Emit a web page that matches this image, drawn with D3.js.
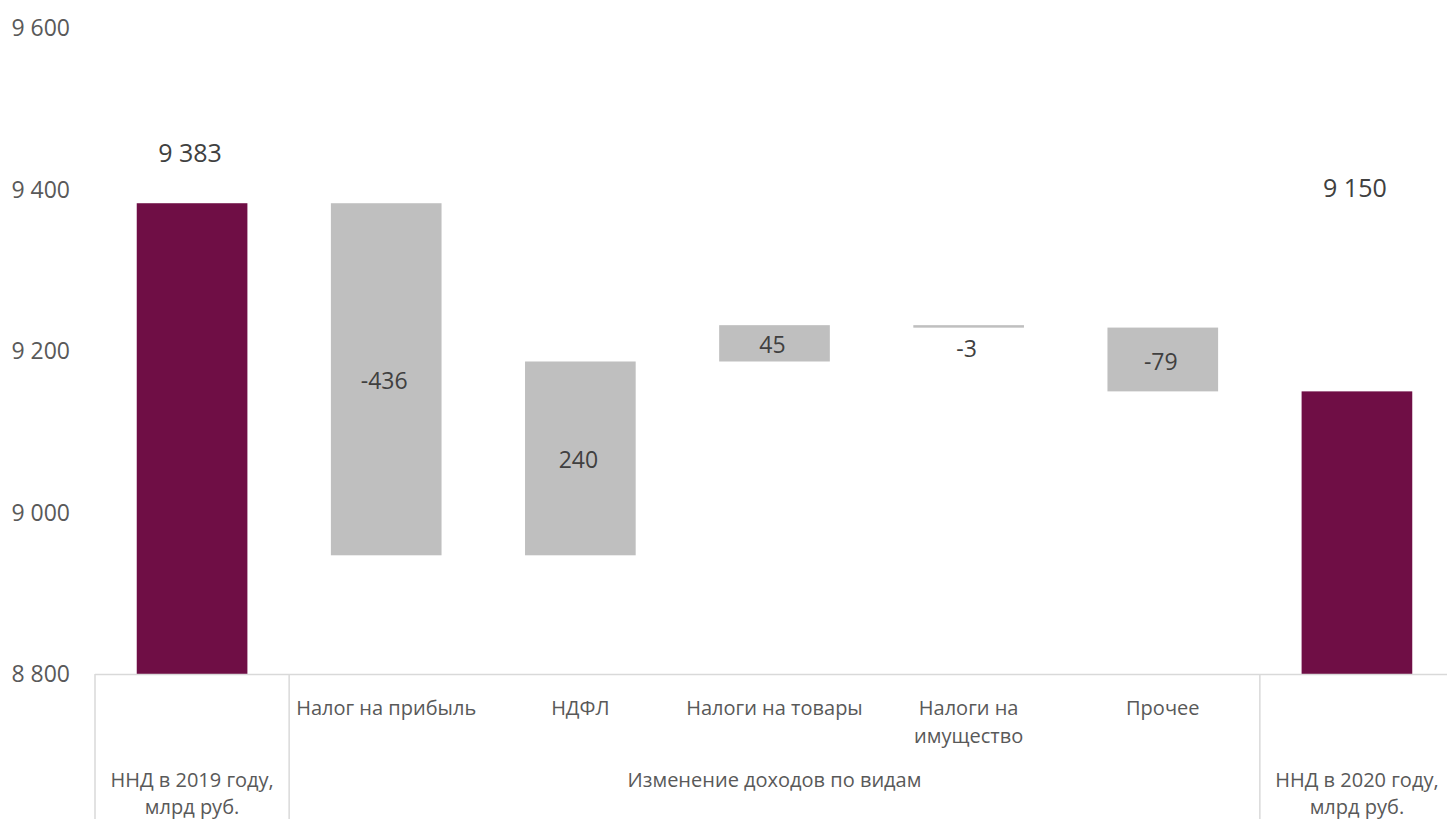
<!DOCTYPE html>
<html><head><meta charset="utf-8">
<script src="https://cdn.jsdelivr.net/npm/d3@7/dist/d3.min.js"></script>
<style>
html,body{margin:0;padding:0;background:#fff;}
svg{display:block;font-family:"Open Sans","Noto Sans",sans-serif;}
</style></head>
<body>
<svg id="chart" width="1447" height="819"></svg>
<script>
// ---- data ----
const categories = ["ННД в 2019 году,\nмлрд руб.", "Налог на прибыль", "НДФЛ", "Налоги на товары", "Налоги на\nимущество", "Прочее", "ННД в 2020 году,\nмлрд руб."];
const startValue = 9383;
const deltas = [-436, 240, 45, -3, -79];
const endValue = 9150;
const groups = ["ННД в 2019 году,\nмлрд руб.", "Изменение доходов по видам", "ННД в 2020 году,\nмлрд руб."];
const groupSpans = [1, 5, 1];
const yTicks = [8800, 9000, 9200, 9400, 9600];

// ---- build waterfall steps ----
const steps = [];
steps.push({cat: categories[0], y0: 8800, y1: startValue, total: true, label: startValue});
let run = startValue;
deltas.forEach((d, i) => {
  steps.push({cat: categories[i + 1], y0: run, y1: run + d, total: false, label: d});
  run += d;
});
steps.push({cat: categories[6], y0: 8800, y1: endValue, total: true, label: endValue});

const svg = d3.select("#chart");
const x = d3.scaleBand().domain(categories).range([95, 1454]).paddingInner(0.43).paddingOuter(0.215);
const y = d3.scaleLinear().domain([8800, 9600]).range([674, 28]);
const loc = d3.formatLocale({decimal: ",", thousands: "\u00a0", grouping: [3], currency: ["", ""], minus: "-"});
const fmt = loc.format(",d");

// y tick labels
svg.append("g").selectAll("text").data(yTicks).join("text")
  .attr("x", 70).attr("y", d => y(d)).attr("dy", "0.35em")
  .attr("text-anchor", "end").attr("font-size", 23).attr("fill", "#595959")
  .text(d => fmt(d));

// bars
svg.append("g").selectAll("rect").data(steps).join("rect")
  .attr("x", d => x(d.cat)).attr("width", x.bandwidth())
  .attr("y", d => y(Math.max(d.y0, d.y1)))
  .attr("height", d => Math.max(2.5, Math.abs(y(d.y0) - y(d.y1))))
  .attr("fill", d => d.total ? "#6f0e45" : "#bfbfbf");

// value labels
svg.append("g").selectAll("text").data(steps).join("text")
  .attr("x", d => x(d.cat) + x.bandwidth() / 2 - 2)
  .attr("y", (d, i) => {
    if (i === 0) return y(d.y1) - 50;
    if (i === steps.length - 1) return y(9400) - 1;
    const h = Math.abs(y(d.y0) - y(d.y1));
    if (h < 20) return y(Math.max(d.y0, d.y1)) + 24;
    return (y(d.y0) + y(d.y1)) / 2 + 2;
  })
  .attr("dy", "0.35em").attr("text-anchor", "middle")
  .attr("font-size", d => d.total ? 25 : 23).attr("fill", "#404040")
  .text(d => d.total ? fmt(d.label) : String(d.label));

// category axis
const axisG = svg.append("g");
axisG.append("line").attr("x1", 95).attr("x2", 1447).attr("y1", 674.5).attr("y2", 674.5)
  .attr("stroke", "#d9d9d9").attr("stroke-width", 1.5);

// group separators
const step = x.step();
let idx = 0;
const bounds = [0];
groupSpans.forEach(s => { idx += s; bounds.push(idx); });
bounds.forEach(b => {
  const bx = 95 + b * step;
  axisG.append("line").attr("x1", bx).attr("x2", bx).attr("y1", 674).attr("y2", 819)
    .attr("stroke", "#d9d9d9").attr("stroke-width", 1.5);
});

// first level labels (inner categories)
categories.slice(1, 6).forEach(c => {
  const lines = c.split("\n");
  const t = axisG.append("text").attr("text-anchor", "middle").attr("font-size", 20).attr("fill", "#595959");
  lines.forEach((l, j) => t.append("tspan").attr("x", x(c) + x.bandwidth() / 2).attr("y", 708 + j * 28).attr("dy", "0.35em").text(l));
});

// second level labels (groups)
let gi = 0;
groups.forEach((g, k) => {
  const cx = 95 + (gi + groupSpans[k] / 2) * step;
  gi += groupSpans[k];
  const lines = g.split("\n");
  const t = axisG.append("text").attr("text-anchor", "middle").attr("font-size", 20).attr("fill", "#595959");
  lines.forEach((l, j) => t.append("tspan").attr("x", cx).attr("y", 780 + j * 27).attr("dy", "0.35em").text(l));
});
</script>
</body></html>
